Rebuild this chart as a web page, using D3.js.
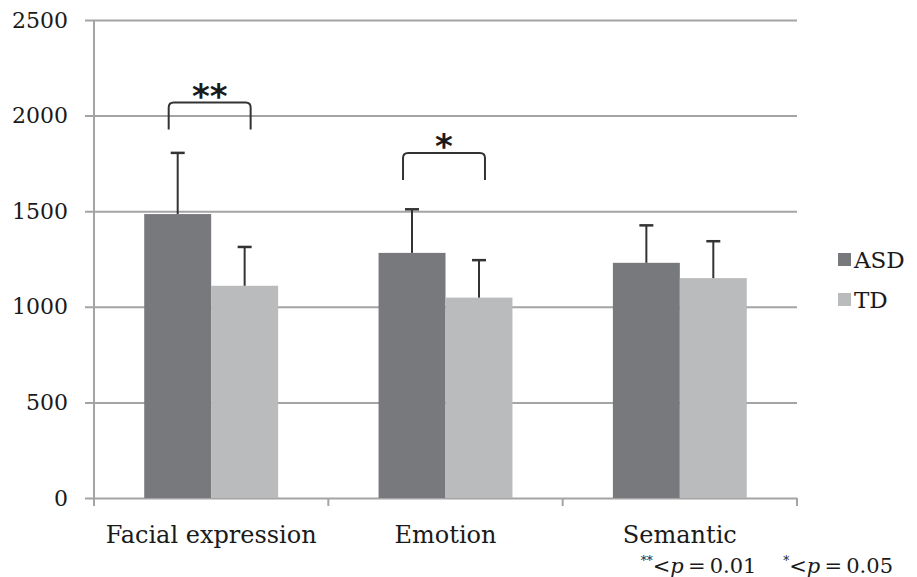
<!DOCTYPE html>
<html>
<head>
<meta charset="utf-8">
<script src="https://cdn.jsdelivr.net/npm/d3@7"></script>
<style>
  body { margin: 0; background: #fff; }
  text { font-family: "DejaVu Serif", serif; fill: #1a1a1a; white-space: pre; }
</style>
</head>
<body>
<div id="chart-area"></div>
<script>
// data
const categories = ['Facial expression', 'Emotion', 'Semantic'];
const groups = ['ASD', 'TD'];
const asdMeans = [1485, 1282, 1230];
const asdSD = [320, 228, 196];
const tdMeans = [1110, 1048, 1150];
const tdSD = [203, 196, 193];
const yTicks = [0, 500, 1000, 1500, 2000, 2500];
// significance brackets: category index, label, bracket height
const sigCats = [0, 1];
const sigLabels = ['**', '*'];
const sigLevels = [2068, 1804];

const width = 917;
const height = 577;
const margin = { left: 94, top: 20, right: 120, bottom: 79 };
const innerW = 797 - margin.left;
const innerH = 498 - margin.top;

const colors = { ASD: '#77797c', TD: '#b9bbbd' };
const gridColor = '#a4a4a4';

const svg = d3.select('#chart-area').append('svg')
    .attr('width', width)
    .attr('height', height);

const g = svg.append('g')
    .attr('transform', `translate(${margin.left}, ${margin.top})`);

const x = d3.scaleBand()
    .domain(categories)
    .range([0, innerW])
    .paddingInner(0)
    .paddingOuter(0);

const xSub = d3.scaleBand()
    .domain(groups)
    .range([0, x.bandwidth()])
    .paddingInner(0)
    .paddingOuter(0.75);

const y = d3.scaleLinear()
    .domain([0, 2500])
    .range([innerH, 0]);

// gridlines + y labels
const yAxis = d3.axisLeft(y)
    .tickValues(yTicks)
    .tickSize(-(innerW + 9))
    .tickPadding(17)
    .tickFormat(d => d);
g.append('g')
    .attr('transform', 'translate(-9, 0)')
    .call(yAxis)
    .call(s => s.select('.domain').remove())
    .call(s => s.selectAll('line').attr('stroke', gridColor).attr('stroke-width', 2))
    .call(s => s.selectAll('text')
        .attr('font-size', '22px')
        .style('font-family', '"DejaVu Serif", serif')
        .attr('fill', '#1a1a1a'));

// y axis line
g.append('line')
    .attr('x1', 0).attr('x2', 0)
    .attr('y1', 0).attr('y2', innerH)
    .attr('stroke', gridColor).attr('stroke-width', 2);

// x axis
const xAxis = d3.axisBottom(x).tickSize(0).tickPadding(28);
g.append('g')
    .attr('transform', `translate(0, ${innerH})`)
    .call(xAxis)
    .call(s => s.select('.domain').remove())
    .call(s => s.selectAll('text')
        .attr('font-size', '24px')
        .style('font-family', '"DejaVu Serif", serif')
        .attr('fill', '#1a1a1a'));

// category boundary ticks
const bounds = categories.map(c => x(c)).concat([innerW]);
g.selectAll('.xtick').data(bounds).enter().append('line')
    .attr('class', 'xtick')
    .attr('x1', d => d).attr('x2', d => d)
    .attr('y1', innerH).attr('y2', innerH + 8)
    .attr('stroke', gridColor).attr('stroke-width', 2);

// bars
const rows = [];
categories.forEach((c, i) => {
    rows.push({ cat: c, grp: 'ASD', mean: asdMeans[i], sd: asdSD[i] });
    rows.push({ cat: c, grp: 'TD', mean: tdMeans[i], sd: tdSD[i] });
});

g.selectAll('rect.bar').data(rows).enter().append('rect')
    .attr('class', 'bar')
    .attr('x', d => x(d.cat) + xSub(d.grp))
    .attr('y', d => y(d.mean))
    .attr('width', xSub.bandwidth())
    .attr('height', d => innerH - y(d.mean))
    .attr('fill', d => colors[d.grp]);

// error bars (upper only)
const cx = d => x(d.cat) + xSub(d.grp) + xSub.bandwidth() / 2;
const err = g.selectAll('g.err').data(rows).enter().append('g').attr('class', 'err');
err.append('line')
    .attr('x1', cx).attr('x2', cx)
    .attr('y1', d => y(d.mean)).attr('y2', d => y(d.mean + d.sd))
    .attr('stroke', '#333').attr('stroke-width', 2);
err.append('line')
    .attr('x1', d => cx(d) - 7).attr('x2', d => cx(d) + 7)
    .attr('y1', d => y(d.mean + d.sd)).attr('y2', d => y(d.mean + d.sd))
    .attr('stroke', '#333').attr('stroke-width', 2.5);

// significance brackets
sigCats.forEach((ci, k) => {
    const c = categories[ci];
    const x1 = x(c) + xSub('ASD') + xSub.bandwidth() / 2 - 9;
    const x2 = x(c) + xSub('TD') + xSub.bandwidth() / 2 + 6;
    const top = y(sigLevels[k]);
    const drop = 27;
    const r = 5;
    const path = `M${x1},${top + drop} L${x1},${top + r} Q${x1},${top} ${x1 + r},${top} ` +
        `L${x2 - r},${top} Q${x2},${top} ${x2},${top + r} L${x2},${top + drop}`;
    g.append('path')
        .attr('d', path)
        .attr('fill', 'none')
        .attr('stroke', '#333')
        .attr('stroke-width', 2);
    g.append('text')
        .attr('x', (x1 + x2) / 2)
        .attr('y', top + 5)
        .attr('text-anchor', 'middle')
        .attr('font-size', '34px')
        .attr('font-weight', 'bold')
        .style('font-family', '"DejaVu Sans", sans-serif')
        .attr('fill', '#2a2a2a')
        .text(sigLabels[k]);
});

// legend
const legend = svg.append('g').attr('transform', 'translate(838, 260)');
groups.forEach((grp, i) => {
    const row = legend.append('g').attr('transform', `translate(0, ${i * 40})`);
    row.append('rect')
        .attr('x', 0).attr('y', -7)
        .attr('width', 13).attr('height', 13)
        .attr('fill', colors[grp]);
    row.append('text')
        .attr('x', 16).attr('y', 8)
        .attr('font-size', '23px')
        .text(grp);
});

// footnote
const note = svg.append('text')
    .attr('x', 893)
    .attr('y', 573)
    .attr('text-anchor', 'end')
    .attr('font-size', '21px');
note.append('tspan').attr('font-size', '12px').attr('dy', -8).text('**');
note.append('tspan').attr('dy', 8).text('<');
note.append('tspan').attr('font-style', 'italic').text('p');
note.append('tspan').text('\u2009=\u20090.01    ');
note.append('tspan').attr('font-size', '12px').attr('dy', -8).text('*');
note.append('tspan').attr('dy', 8).text('<');
note.append('tspan').attr('font-style', 'italic').text('p');
note.append('tspan').text('\u2009=\u20090.05');
</script>
</body>
</html>
